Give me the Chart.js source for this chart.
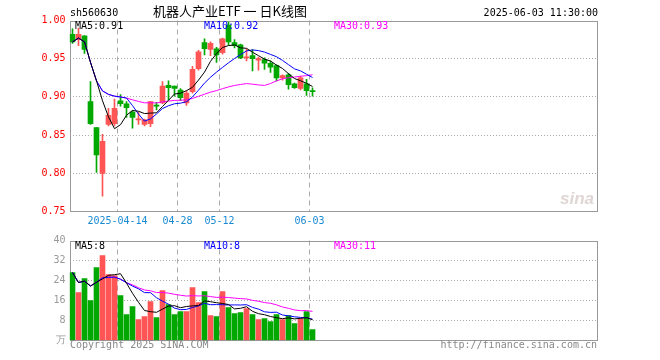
<!DOCTYPE html>
<html>
<head>
<meta charset="utf-8">
<script src="https://cdn.jsdelivr.net/npm/chart.js@4.4.1/dist/chart.umd.min.js"></script>
<style>
  body { margin: 0; background: #fff; width: 660px; height: 360px; position: relative; overflow: hidden; }
  canvas { position: absolute; left: 0; }
  .t { position: absolute; white-space: nowrap; line-height: 12px; font-family: 'DejaVu Sans Mono', monospace; font-size: 10px; color: #000; }
</style>
</head>
<body>
<canvas id="kline" width="660" height="230" style="top:0"></canvas>
<canvas id="vol" width="660" height="130" style="top:230px"></canvas>

<div class="t" style="left:70px;top:7px">sh560630</div>
<div class="t" style="left:150px;top:3px;width:160px;text-align:center;font-family:'Noto Sans CJK SC',sans-serif;font-size:13px;line-height:16px">机器人产业ETF 一 日K线图</div>
<div class="t" style="right:62px;top:7px">2025-06-03 11:30:00</div>

<div class="t" style="left:75px;top:20px">MA5:0.91</div>
<div class="t" style="left:204px;top:20px;color:#0000ff">MA10:0.92</div>
<div class="t" style="left:334px;top:20px;color:#ff00ff">MA30:0.93</div>

<div class="t" style="left:75px;top:240px">MA5:8</div>
<div class="t" style="left:204px;top:240px;color:#0000ff">MA10:8</div>
<div class="t" style="left:334px;top:240px;color:#ff00ff">MA30:11</div>

<div class="t" style="left:70px;top:339px;color:#888">Copyright 2025 SINA.COM</div>
<div class="t" style="right:63px;top:339px;color:#888">http://finance.sina.com.cn</div>
<div class="t" style="left:560px;top:190px;font-family:'Liberation Sans',sans-serif;font-size:17px;font-weight:bold;font-style:italic;color:#e0d6d6;line-height:18px">sina</div>

<script>
// 交易日 (2025-04-01 上市)
const dates = ['2025-04-01','2025-04-02','2025-04-03','2025-04-07','2025-04-08','2025-04-09','2025-04-10','2025-04-11',
  '2025-04-14','2025-04-15','2025-04-16','2025-04-17','2025-04-18','2025-04-21','2025-04-22','2025-04-23','2025-04-24','2025-04-25',
  '2025-04-28','2025-04-29','2025-04-30','2025-05-06','2025-05-07','2025-05-08','2025-05-09',
  '2025-05-12','2025-05-13','2025-05-14','2025-05-15','2025-05-16','2025-05-19','2025-05-20','2025-05-21','2025-05-22','2025-05-23',
  '2025-05-26','2025-05-27','2025-05-28','2025-05-29','2025-05-30','2025-06-03'];

const opens  = [.982,.975,.980,.894,.860,.800,.864,.865,.895,.891,.880,.870,.864,.865,.889,.892,.915,.914,.909,.892,.907,
  .937,.971,.962,.963,.958,.994,.971,.968,.951,.954,.948,.949,.944,.941,.925,.929,.917,.911,.917,.908];
const closes = [.972,.982,.962,.865,.824,.842,.876,.885,.891,.886,.873,.871,.870,.894,.888,.914,.912,.911,.899,.905,.936,
  .959,.963,.970,.955,.976,.972,.967,.951,.952,.950,.950,.944,.939,.925,.928,.916,.912,.925,.908,.907];
const highs  = [.989,.990,.980,.920,.860,.851,.885,.897,.903,.894,.882,.880,.871,.894,.893,.920,.921,.914,.911,.908,.940,
  .961,.976,.972,.965,.977,.998,.975,.969,.963,.962,.952,.951,.947,.942,.929,.931,.918,.927,.923,.912];
const lows   = [.970,.967,.957,.864,.801,.770,.862,.862,.888,.873,.859,.864,.862,.861,.883,.891,.896,.901,.895,.889,.905,
  .935,.955,.954,.945,.956,.968,.964,.950,.947,.934,.935,.936,.932,.921,.922,.910,.911,.909,.902,.901];

// 成交量 (万)
const volumes = [27.2,19.2,24.8,16,29.2,34,26.4,26,18,10.4,13.6,8.4,9.6,15.6,9.2,20,14.4,10.4,11.6,11.6,
  21.2,15.2,19.6,10,9.6,19.6,13.2,10.8,11.2,12.8,10.4,8.4,8.8,7.6,10.4,8.4,10,6.8,8.8,11.6,4.4];

const tickDates  = ['2025-04-14','2025-04-28','2025-05-12','2025-06-03'];
const tickLabels = ['2025-04-14','04-28','05-12','06-03'];

const priceTicks  = [0.75, 0.80, 0.85, 0.90, 0.95, 1.00];
const volumeTicks = [0, 8, 16, 24, 32, 40];

const SLOTS = 88;            // 横轴总格数 (数据只占前面一段)
const RED = '#ff5555';
const GREEN = '#00a800';
const MONO = "'DejaVu Sans Mono', monospace";

// 均线: 上市不足 n 天时按已有天数平均
function movingAvg(arr, n) {
  return arr.map((v, i) => {
    const from = Math.max(0, i - n + 1);
    const part = arr.slice(from, i + 1);
    return part.reduce((a, b) => a + b, 0) / part.length;
  });
}

const labels = dates.concat(new Array(SLOTS - dates.length).fill(''));
const tickAt = {};
tickDates.forEach((d, k) => { tickAt[dates.indexOf(d)] = tickLabels[k]; });

const upColors = closes.map((c, i) => (c >= opens[i] ? RED : GREEN));

const framePlugin = {
  id: 'frame',
  beforeDatasetsDraw(chart) {
    const { ctx, chartArea: a } = chart;
    ctx.save();
    ctx.strokeStyle = '#999';
    ctx.lineWidth = 1;
    ctx.strokeRect(Math.round(a.left) + 0.5, Math.round(a.top) + 0.5,
      Math.round(a.right) - Math.round(a.left) - 1, Math.round(a.bottom) - Math.round(a.top) - 1);
    ctx.restore();
  }
};

function xScale(showLabels) {
  return {
    offset: true,
    grid: {
      offset: true,
      drawTicks: false,
      color: c => (tickAt[c.index] !== undefined ? '#aaa' : 'transparent')
    },
    border: { display: false, dash: [5, 4] },
    ticks: {
      display: showLabels,
      autoSkip: false,
      maxRotation: 0,
      padding: 4,
      labelOffset: -3,
      color: '#1a8ad4',
      font: { family: MONO, size: 10 },
      callback: (v, i) => tickAt[i] || ''
    },
    afterFit(s) { s.height = showLabels ? 18.5 : 19.5; }
  };
}

function lineSet(data, color) {
  return { type: 'line', data, borderColor: color, borderWidth: 1, pointRadius: 0, tension: 0, order: 0 };
}

// K线图
new Chart(document.getElementById('kline'), {
  type: 'bar',
  data: {
    labels,
    datasets: [
      lineSet(movingAvg(closes, 5), '#000'),
      lineSet(movingAvg(closes, 10), '#0000ff'),
      lineSet(movingAvg(closes, 30), '#ff00ff'),
      {
        data: lows.map((l, i) => [l, highs[i]]),
        backgroundColor: upColors, barThickness: 1, grouped: false, order: 2
      },
      {
        data: opens.map((o, i) => [o, closes[i]]),
        backgroundColor: upColors, barThickness: 5, minBarLength: 1, grouped: false, order: 1
      }
    ]
  },
  options: {
    responsive: false,
    animation: false,
    layout: { padding: { top: 20.5, right: 62.5, left: 0, bottom: 0 } },
    plugins: { legend: { display: false }, tooltip: { enabled: false } },
    scales: {
      x: xScale(true),
      y: {
        min: 0.75, max: 1.0,
        afterBuildTicks(s) { s.ticks = priceTicks.map(v => ({ value: v })); },
        grid: {
          drawTicks: false,
          color: c => (c.tick && c.tick.value > 0.76 && c.tick.value < 0.99 ? '#aaa' : 'transparent')
        },
        border: { display: false, dash: [1, 2] },
        ticks: {
          padding: 4,
          color: '#ff0000',
          font: { family: MONO, size: 10 },
          callback: v => v.toFixed(2)
        },
        afterFit(s) { s.width = 69.5; }
      }
    }
  },
  plugins: [framePlugin]
});

// 成交量
new Chart(document.getElementById('vol'), {
  type: 'bar',
  data: {
    labels,
    datasets: [
      lineSet(movingAvg(volumes, 5), '#000'),
      lineSet(movingAvg(volumes, 10), '#0000ff'),
      lineSet(movingAvg(volumes, 30), '#ff00ff'),
      { data: volumes, backgroundColor: upColors, barThickness: 5, grouped: false, order: 1 }
    ]
  },
  options: {
    responsive: false,
    animation: false,
    layout: { padding: { top: 10.5, right: 62.5, left: 0, bottom: 0 } },
    plugins: { legend: { display: false }, tooltip: { enabled: false } },
    scales: {
      x: xScale(false),
      y: {
        min: 0, max: 40,
        afterBuildTicks(s) { s.ticks = volumeTicks.map(v => ({ value: v })); },
        grid: {
          drawTicks: false,
          color: c => (c.tick && c.tick.value > 0 && c.tick.value < 40 ? '#aaa' : 'transparent')
        },
        border: { display: false, dash: [1, 2] },
        ticks: {
          padding: 4,
          color: '#999',
          font: { family: MONO, size: 10 },
          callback: v => (v === 0 ? '万' : String(v))
        },
        afterFit(s) { s.width = 69.5; }
      }
    }
  },
  plugins: [framePlugin]
});
</script>
</body>
</html>
